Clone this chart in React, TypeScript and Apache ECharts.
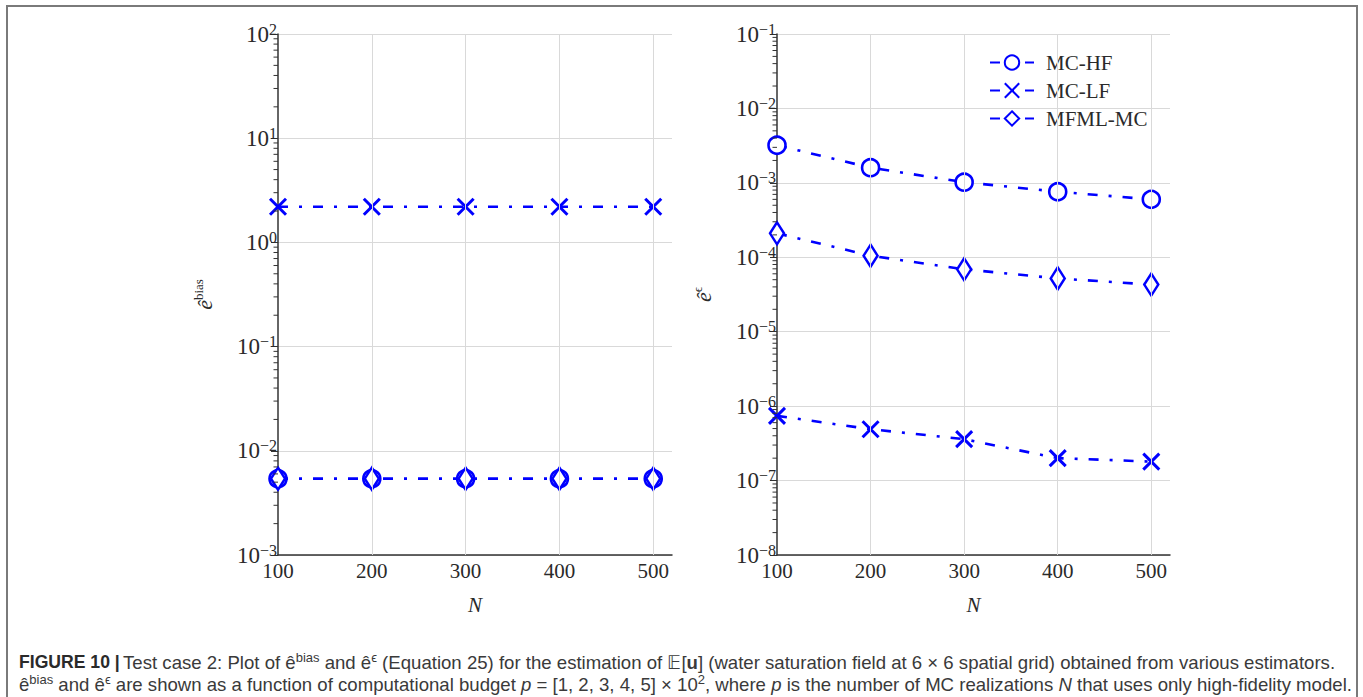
import React, { useEffect, useRef } from "react";
import * as echarts from "echarts";

// ---- data ----
const nValues = [100, 200, 300, 400, 500];
const xTickLabels = ["100", "200", "300", "400", "500"];
const seriesNames = ["MC-HF", "MC-LF", "MFML-MC"];

// left panel: e^bias
const biasMCHF = [5.4e-3, 5.4e-3, 5.4e-3, 5.4e-3, 5.4e-3];
const biasMCLF = [2.2, 2.2, 2.2, 2.2, 2.2];
const biasMFML = [5.4e-3, 5.4e-3, 5.4e-3, 5.4e-3, 5.4e-3];

// right panel: e^eps
const errMCHF = [3.2e-3, 1.6e-3, 1.02e-3, 7.6e-4, 6.0e-4];
const errMCLF = [7.4e-7, 4.9e-7, 3.6e-7, 2.0e-7, 1.8e-7];
const errMFML = [2.1e-4, 1.05e-4, 6.9e-5, 5.2e-5, 4.3e-5];

// axis ticks
const leftDecades = [-3, -2, -1, 0, 1];
const rightDecades = [-8, -7, -6, -5, -4, -3, -2];
const minorMultipliers = [2, 3, 4, 5, 6, 7, 8, 9];

// ---- styles ----
const BLUE = "#0000ff";
const SERIF = "'Liberation Serif', 'DejaVu Serif', serif";
const SANS = "'Liberation Sans', Arial, sans-serif";
const DASH = [10, 11, 3, 11];
const AXIS = "#333333";
const GRID = "#d9d9d9";
const TXT = "#2a2a2a";

const symbolOf: Record<string, any> = {
  "MC-HF": "circle",
  "MC-LF": "path://M0,0L10,10M10,0L0,10",
  "MFML-MC": "diamond",
};
const symbolSizeOf: Record<string, any> = {
  "MC-HF": 17,
  "MC-LF": 16,
  "MFML-MC": [14, 22],
};

function lineSeries(name: string, values: number[], idx: number) {
  const isCross = name === "MC-LF";
  return {
    type: "line",
    name,
    xAxisIndex: idx,
    yAxisIndex: idx,
    data: nValues.map((n, i) => [n, values[i]]),
    symbol: symbolOf[name],
    symbolSize: symbolSizeOf[name],
    showAllSymbol: true,
    lineStyle: { color: BLUE, width: 2.6, type: DASH },
    itemStyle: {
      color: isCross ? "rgba(0,0,0,0)" : "#ffffff",
      borderColor: BLUE,
      borderWidth: isCross ? 3 : 2.6,
    },
    emphasis: { disabled: true },
    silent: true,
    z: 3,
  };
}

function minorTicks(decades: number[]) {
  const out: number[][] = [];
  decades.forEach((d) => minorMultipliers.forEach((m) => out.push([100, m * Math.pow(10, d)])));
  return out;
}

function minorTickSeries(decades: number[], idx: number) {
  return {
    type: "custom",
    xAxisIndex: idx,
    yAxisIndex: idx,
    silent: true,
    clip: false,
    z: 5,
    data: minorTicks(decades),
    renderItem: (_params: any, api: any) => {
      const p = api.coord([api.value(0), api.value(1)]);
      return {
        type: "line",
        shape: { x1: p[0] - 4.5, y1: p[1], x2: p[0], y2: p[1] },
        style: { stroke: AXIS, lineWidth: 1 },
      };
    },
  };
}

function gridLineSeries(idx: number) {
  return {
    type: "line",
    name: "grid" + idx,
    xAxisIndex: idx,
    yAxisIndex: idx,
    data: [],
    silent: true,
    z: 1,
    markLine: {
      silent: true,
      symbol: ["none", "none"],
      label: { show: false },
      lineStyle: { color: GRID, width: 1, type: "solid" },
      emphasis: { disabled: true },
      data: nValues.slice(1).map((v) => ({ xAxis: v })),
    },
  };
}

const supRich = {
  b: { fontFamily: SERIF, fontSize: 23, color: TXT, lineHeight: 26 },
  s: { fontFamily: SERIF, fontSize: 16, color: TXT, verticalAlign: "top", lineHeight: 16 },
};

function logLabel(v: number) {
  const e = Math.round(Math.log10(v));
  const t = e < 0 ? "\u2212" + -e : String(e);
  return `{b|10}{s|${t}}`;
}

function xAxis(idx: number) {
  return {
    type: "value",
    gridIndex: idx,
    min: 100,
    max: 520,
    interval: 100,
    axisLine: { show: true, onZero: false, lineStyle: { color: AXIS, width: 1.5 } },
    axisTick: { show: false },
    splitLine: { show: false },
    axisLabel: {
      fontFamily: SERIF,
      fontSize: 21,
      color: TXT,
      margin: 5,
      showMaxLabel: false,
      formatter: (v: number) => {
        const i = nValues.indexOf(v);
        return i >= 0 ? xTickLabels[i] : "";
      },
    },
    name: "N",
    nameLocation: "middle",
    nameGap: 39,
    nameTextStyle: { fontFamily: SERIF, fontStyle: "italic", fontSize: 21, color: TXT },
  };
}

function yAxis(idx: number, min: number, max: number, splitNumber: number, nameSup: string) {
  return {
    type: "log",
    logBase: 10,
    gridIndex: idx,
    min,
    max,
    splitNumber,
    axisLine: { show: true, onZero: false, lineStyle: { color: AXIS, width: 1.5 } },
    axisTick: { show: true, length: 7, lineStyle: { color: AXIS, width: 1 } },
    splitLine: { show: true, lineStyle: { color: GRID, width: 1 } },
    axisLabel: {
      formatter: logLabel,
      fontFamily: SERIF,
      fontSize: 23,
      color: TXT,
      rich: supRich,
      margin: 1,
    },
    name: `{i|\u00ea}{s|${nameSup}}`,
    nameLocation: "middle",
    nameRotate: 90,
    nameGap: 62,
    nameTextStyle: {
      fontFamily: SERIF,
      fontSize: 22,
      color: TXT,
      rich: {
        i: { fontFamily: SERIF, fontStyle: "italic", fontSize: 22, color: TXT, lineHeight: 24 },
        s: { fontFamily: SERIF, fontSize: 13, color: TXT, verticalAlign: "top", lineHeight: 13 },
      },
    },
  };
}

const cap1 =
  "{b|FIGURE 10 |} {n|Test case 2: Plot of \u00ea}{sup|bias}{n| and \u00ea}{sup|\u03f5}{n| (Equation 25) for the estimation of \ud835\udd3c[}{nb|u}{n|] (water saturation field at 6 \u00d7 6 spatial grid) obtained from various estimators.}";
const cap2 =
  "{n|\u00ea}{sup|bias}{n| and \u00ea}{sup|\u03f5}{n| are shown as a function of computational budget }{it|p}{n| = [1, 2, 3, 4, 5] \u00d7 10}{sup|2}{n|, where }{it|p}{n| is the number of MC realizations }{it|N}{n| that uses only high-fidelity model.}";

const CAP_FS = 18.6;
const capRich = {
  b: { fontFamily: SANS, fontSize: CAP_FS - 1, fontWeight: "bold", fill: "#2a2a2a", lineHeight: 22 },
  n: { fontFamily: SANS, fontSize: CAP_FS, fill: "#3a3a3a", lineHeight: 22 },
  nb: { fontFamily: SANS, fontSize: CAP_FS, fontWeight: "bold", fill: "#3a3a3a", lineHeight: 22 },
  it: { fontFamily: SANS, fontSize: CAP_FS, fontStyle: "italic", fill: "#3a3a3a", lineHeight: 22 },
  sup: { fontFamily: SANS, fontSize: 13, fill: "#3a3a3a", verticalAlign: "top", lineHeight: 13 },
};

export default function App() {
  const ref = useRef<HTMLDivElement>(null);
  useEffect(() => {
    if (!ref.current) return;
    const chart = echarts.init(ref.current, undefined, { renderer: "svg" });
    chart.setOption({
      animation: false,
      backgroundColor: "#ffffff",
      grid: [
        { left: 278, top: 34, width: 394, height: 521 },
        { left: 777, top: 34, width: 393, height: 521 },
      ],
      xAxis: [xAxis(0), xAxis(1)],
      yAxis: [yAxis(0, 1e-3, 1e2, 5, "bias"), yAxis(1, 1e-8, 1e-1, 7, "\u03f5")],
      legend: {
        data: seriesNames,
        orient: "vertical",
        left: 984,
        top: 47,
        itemWidth: 44,
        itemHeight: 18,
        itemGap: 7,
        selectedMode: false,
        textStyle: { fontFamily: SERIF, fontSize: 21, color: TXT, padding: [0, 0, 0, 7] },
      },
      graphic: [
        {
          type: "rect",
          shape: { x: 7, y: 6, width: 1350, height: 740 },
          style: { fill: "none", stroke: "#7a7a7a", lineWidth: 2 },
          silent: true,
        },
        {
          type: "text",
          x: 19,
          y: 651,
          style: { text: cap1, rich: capRich, fill: "#3a3a3a" },
          silent: true,
        },
        {
          type: "text",
          x: 19,
          y: 673,
          style: { text: cap2, rich: capRich, fill: "#3a3a3a" },
          silent: true,
        },
      ],
      series: [
        gridLineSeries(0),
        gridLineSeries(1),
        lineSeries("MC-HF", biasMCHF, 0),
        lineSeries("MC-LF", biasMCLF, 0),
        lineSeries("MFML-MC", biasMFML, 0),
        lineSeries("MC-HF", errMCHF, 1),
        lineSeries("MC-LF", errMCLF, 1),
        lineSeries("MFML-MC", errMFML, 1),
        minorTickSeries(leftDecades, 0),
        minorTickSeries(rightDecades, 1),
      ],
    });
    return () => chart.dispose();
  }, []);
  return (
    <div
      ref={ref}
      style={{ position: "absolute", left: 0, top: 0, width: 1363, height: 697 }}
    />
  );
}
